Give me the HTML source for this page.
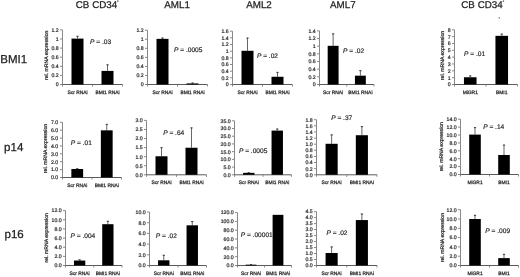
<!DOCTYPE html>
<html><head><meta charset="utf-8"><title>BMI1 p14 p16 expression</title>
<style>
html,body{margin:0;padding:0;background:#fff;}
body{width:520px;height:277px;overflow:hidden;}
svg{display:block;filter:grayscale(1) blur(0.35px);text-rendering:geometricPrecision;font-family:"Liberation Sans",sans-serif;fill:#222;}
text{fill:#222;stroke:#333;stroke-width:0.2px;}
.b{stroke:#222;stroke-width:0.25px;}
.c{stroke-width:0.26px;}
</style></head><body>
<svg width="520" height="277" viewBox="0 0 520 277">
<rect width="520" height="277" fill="#fff"/>
<g><path d="M62.50 29.90V84.50" stroke="#888" stroke-width="1" fill="none"/><path d="M60.00 84.50H62.50" stroke="#888" stroke-width="1"/><text x="58.70" y="86.37" font-size="5.20" text-anchor="end">0</text><path d="M60.00 75.40H62.50" stroke="#888" stroke-width="1"/><text x="58.70" y="77.27" font-size="5.20" text-anchor="end">0.2</text><path d="M60.00 66.30H62.50" stroke="#888" stroke-width="1"/><text x="58.70" y="68.17" font-size="5.20" text-anchor="end">0.4</text><path d="M60.00 57.20H62.50" stroke="#888" stroke-width="1"/><text x="58.70" y="59.07" font-size="5.20" text-anchor="end">0.6</text><path d="M60.00 48.10H62.50" stroke="#888" stroke-width="1"/><text x="58.70" y="49.97" font-size="5.20" text-anchor="end">0.8</text><path d="M60.00 39.00H62.50" stroke="#888" stroke-width="1"/><text x="58.70" y="40.87" font-size="5.20" text-anchor="end">1</text><path d="M60.00 29.90H62.50" stroke="#888" stroke-width="1"/><text x="58.70" y="31.77" font-size="5.20" text-anchor="end">1.2</text><path d="M62.00 84.50H122.50" stroke="#5a5a5a" stroke-width="1" fill="none"/><path d="M62.50 84.50V86.50" stroke="#888" stroke-width="1"/><path d="M92.50 84.50V86.50" stroke="#888" stroke-width="1"/><path d="M122.50 84.50V86.50" stroke="#888" stroke-width="1"/><path d="M77.50 38.60V36.01" stroke="#666" stroke-width="1" fill="none"/><path d="M76.40 36.31H78.60" stroke="#444" stroke-width="1.1" fill="none"/><rect x="71.50" y="38.60" width="12.00" height="45.90" fill="#000"/><text class="c" x="77.50" y="94.00" font-size="4.90" text-anchor="middle">Scr RNAi</text><path d="M107.50 70.91V64.53" stroke="#666" stroke-width="1" fill="none"/><path d="M106.40 64.83H108.60" stroke="#444" stroke-width="1.1" fill="none"/><rect x="101.50" y="70.91" width="12.00" height="13.59" fill="#000"/><text class="c" x="107.50" y="94.00" font-size="4.90" text-anchor="middle">BMI1 RNAi</text><text x="90.10" y="44.10" font-size="6.60"><tspan font-style="italic">P</tspan> = .03</text></g>
<g><path d="M147.50 30.20V84.50" stroke="#888" stroke-width="1" fill="none"/><path d="M145.00 84.50H147.50" stroke="#888" stroke-width="1"/><text x="143.70" y="86.37" font-size="5.20" text-anchor="end">0</text><path d="M145.00 75.45H147.50" stroke="#888" stroke-width="1"/><text x="143.70" y="77.32" font-size="5.20" text-anchor="end">0.2</text><path d="M145.00 66.40H147.50" stroke="#888" stroke-width="1"/><text x="143.70" y="68.27" font-size="5.20" text-anchor="end">0.4</text><path d="M145.00 57.35H147.50" stroke="#888" stroke-width="1"/><text x="143.70" y="59.22" font-size="5.20" text-anchor="end">0.6</text><path d="M145.00 48.30H147.50" stroke="#888" stroke-width="1"/><text x="143.70" y="50.17" font-size="5.20" text-anchor="end">0.8</text><path d="M145.00 39.25H147.50" stroke="#888" stroke-width="1"/><text x="143.70" y="41.12" font-size="5.20" text-anchor="end">1</text><path d="M145.00 30.20H147.50" stroke="#888" stroke-width="1"/><text x="143.70" y="32.07" font-size="5.20" text-anchor="end">1.2</text><path d="M147.00 84.50H207.50" stroke="#5a5a5a" stroke-width="1" fill="none"/><path d="M147.50 84.50V86.50" stroke="#888" stroke-width="1"/><path d="M177.50 84.50V86.50" stroke="#888" stroke-width="1"/><path d="M207.50 84.50V86.50" stroke="#888" stroke-width="1"/><path d="M162.50 38.85V37.72" stroke="#666" stroke-width="1" fill="none"/><path d="M161.40 38.02H163.60" stroke="#444" stroke-width="1.1" fill="none"/><rect x="156.50" y="38.85" width="12.00" height="45.65" fill="#000"/><text class="c" x="162.50" y="94.00" font-size="4.90" text-anchor="middle">Scr RNAi</text><path d="M192.50 83.42V82.74" stroke="#666" stroke-width="1" fill="none"/><path d="M191.40 83.04H193.60" stroke="#444" stroke-width="1.1" fill="none"/><rect x="186.50" y="83.42" width="12.00" height="1.08" fill="#000"/><text class="c" x="192.50" y="94.00" font-size="4.90" text-anchor="middle">BMI1 RNAi</text><text x="174.00" y="51.70" font-size="6.60"><tspan font-style="italic">P</tspan> = .0005</text></g>
<g><path d="M232.50 31.20V84.50" stroke="#888" stroke-width="1" fill="none"/><path d="M230.00 84.50H232.50" stroke="#888" stroke-width="1"/><text x="228.70" y="86.37" font-size="5.20" text-anchor="end">0</text><path d="M230.00 77.84H232.50" stroke="#888" stroke-width="1"/><text x="228.70" y="79.71" font-size="5.20" text-anchor="end">0.2</text><path d="M230.00 71.17H232.50" stroke="#888" stroke-width="1"/><text x="228.70" y="73.05" font-size="5.20" text-anchor="end">0.4</text><path d="M230.00 64.51H232.50" stroke="#888" stroke-width="1"/><text x="228.70" y="66.38" font-size="5.20" text-anchor="end">0.6</text><path d="M230.00 57.85H232.50" stroke="#888" stroke-width="1"/><text x="228.70" y="59.72" font-size="5.20" text-anchor="end">0.8</text><path d="M230.00 51.19H232.50" stroke="#888" stroke-width="1"/><text x="228.70" y="53.06" font-size="5.20" text-anchor="end">1</text><path d="M230.00 44.53H232.50" stroke="#888" stroke-width="1"/><text x="228.70" y="46.40" font-size="5.20" text-anchor="end">1.2</text><path d="M230.00 37.86H232.50" stroke="#888" stroke-width="1"/><text x="228.70" y="39.73" font-size="5.20" text-anchor="end">1.4</text><path d="M230.00 31.20H232.50" stroke="#888" stroke-width="1"/><text x="228.70" y="33.07" font-size="5.20" text-anchor="end">1.6</text><path d="M232.00 84.50H292.50" stroke="#5a5a5a" stroke-width="1" fill="none"/><path d="M232.50 84.50V86.50" stroke="#888" stroke-width="1"/><path d="M262.50 84.50V86.50" stroke="#888" stroke-width="1"/><path d="M292.50 84.50V86.50" stroke="#888" stroke-width="1"/><path d="M247.50 50.79V37.80" stroke="#666" stroke-width="1" fill="none"/><path d="M246.40 38.10H248.60" stroke="#444" stroke-width="1.1" fill="none"/><rect x="241.50" y="50.79" width="12.00" height="33.71" fill="#000"/><text class="c" x="247.50" y="94.00" font-size="4.90" text-anchor="middle">Scr RNAi</text><path d="M277.50 76.77V72.11" stroke="#666" stroke-width="1" fill="none"/><path d="M276.40 72.41H278.60" stroke="#444" stroke-width="1.1" fill="none"/><rect x="271.50" y="76.77" width="12.00" height="7.73" fill="#000"/><text class="c" x="277.50" y="94.00" font-size="4.90" text-anchor="middle">BMI1 RNAi</text><text x="256.90" y="58.20" font-size="6.60"><tspan font-style="italic">P</tspan> = .02</text></g>
<g><path d="M319.50 30.90V84.50" stroke="#888" stroke-width="1" fill="none"/><path d="M317.00 84.50H319.50" stroke="#888" stroke-width="1"/><text x="315.70" y="86.37" font-size="5.20" text-anchor="end">0</text><path d="M317.00 76.84H319.50" stroke="#888" stroke-width="1"/><text x="315.70" y="78.71" font-size="5.20" text-anchor="end">0.2</text><path d="M317.00 69.19H319.50" stroke="#888" stroke-width="1"/><text x="315.70" y="71.06" font-size="5.20" text-anchor="end">0.4</text><path d="M317.00 61.53H319.50" stroke="#888" stroke-width="1"/><text x="315.70" y="63.40" font-size="5.20" text-anchor="end">0.6</text><path d="M317.00 53.87H319.50" stroke="#888" stroke-width="1"/><text x="315.70" y="55.74" font-size="5.20" text-anchor="end">0.8</text><path d="M317.00 46.21H319.50" stroke="#888" stroke-width="1"/><text x="315.70" y="48.09" font-size="5.20" text-anchor="end">1</text><path d="M317.00 38.56H319.50" stroke="#888" stroke-width="1"/><text x="315.70" y="40.43" font-size="5.20" text-anchor="end">1.2</text><path d="M317.00 30.90H319.50" stroke="#888" stroke-width="1"/><text x="315.70" y="32.77" font-size="5.20" text-anchor="end">1.4</text><path d="M319.00 84.50H374.00" stroke="#5a5a5a" stroke-width="1" fill="none"/><path d="M319.50 84.50V86.50" stroke="#888" stroke-width="1"/><path d="M346.75 84.50V86.50" stroke="#888" stroke-width="1"/><path d="M374.00 84.50V86.50" stroke="#888" stroke-width="1"/><path d="M333.12 45.81V33.56" stroke="#666" stroke-width="1" fill="none"/><path d="M332.02 33.86H334.23" stroke="#444" stroke-width="1.1" fill="none"/><rect x="327.68" y="45.81" width="10.90" height="38.69" fill="#000"/><text class="c" x="333.12" y="94.00" font-size="4.90" text-anchor="middle">Scr RNAi</text><path d="M360.38 75.68V70.32" stroke="#666" stroke-width="1" fill="none"/><path d="M359.27 70.62H361.48" stroke="#444" stroke-width="1.1" fill="none"/><rect x="354.93" y="75.68" width="10.90" height="8.82" fill="#000"/><text class="c" x="360.38" y="94.00" font-size="4.90" text-anchor="middle">BMI1 RNAi</text><text x="343.00" y="52.70" font-size="6.60"><tspan font-style="italic">P</tspan> = .02</text></g>
<g><path d="M454.50 29.80V84.50" stroke="#888" stroke-width="1" fill="none"/><path d="M452.00 84.50H454.50" stroke="#888" stroke-width="1"/><text x="450.70" y="86.37" font-size="5.20" text-anchor="end">0</text><path d="M452.00 77.66H454.50" stroke="#888" stroke-width="1"/><text x="450.70" y="79.53" font-size="5.20" text-anchor="end">1</text><path d="M452.00 70.83H454.50" stroke="#888" stroke-width="1"/><text x="450.70" y="72.70" font-size="5.20" text-anchor="end">2</text><path d="M452.00 63.99H454.50" stroke="#888" stroke-width="1"/><text x="450.70" y="65.86" font-size="5.20" text-anchor="end">3</text><path d="M452.00 57.15H454.50" stroke="#888" stroke-width="1"/><text x="450.70" y="59.02" font-size="5.20" text-anchor="end">4</text><path d="M452.00 50.31H454.50" stroke="#888" stroke-width="1"/><text x="450.70" y="52.18" font-size="5.20" text-anchor="end">5</text><path d="M452.00 43.47H454.50" stroke="#888" stroke-width="1"/><text x="450.70" y="45.35" font-size="5.20" text-anchor="end">6</text><path d="M452.00 36.64H454.50" stroke="#888" stroke-width="1"/><text x="450.70" y="38.51" font-size="5.20" text-anchor="end">7</text><path d="M452.00 29.80H454.50" stroke="#888" stroke-width="1"/><text x="450.70" y="31.67" font-size="5.20" text-anchor="end">8</text><path d="M454.00 84.50H517.50" stroke="#5a5a5a" stroke-width="1" fill="none"/><path d="M454.50 84.50V86.50" stroke="#888" stroke-width="1"/><path d="M486.00 84.50V86.50" stroke="#888" stroke-width="1"/><path d="M517.50 84.50V86.50" stroke="#888" stroke-width="1"/><path d="M470.25 77.26V75.62" stroke="#666" stroke-width="1" fill="none"/><path d="M469.15 75.92H471.35" stroke="#444" stroke-width="1.1" fill="none"/><rect x="463.95" y="77.26" width="12.60" height="7.24" fill="#000"/><text class="c" x="470.25" y="94.00" font-size="4.90" text-anchor="middle">MiGR1</text><path d="M501.75 35.83V33.84" stroke="#666" stroke-width="1" fill="none"/><path d="M500.65 34.14H502.85" stroke="#444" stroke-width="1.1" fill="none"/><rect x="495.45" y="35.83" width="12.60" height="48.67" fill="#000"/><text class="c" x="501.75" y="94.00" font-size="4.90" text-anchor="middle">BMI1</text><text x="464.00" y="55.80" font-size="6.60"><tspan font-style="italic">P</tspan> = .01</text></g>
<g><path d="M62.50 122.30V177.50" stroke="#888" stroke-width="1" fill="none"/><path d="M60.00 177.50H62.50" stroke="#888" stroke-width="1"/><text x="58.10" y="179.37" font-size="5.20" text-anchor="end">0.0</text><path d="M60.00 169.61H62.50" stroke="#888" stroke-width="1"/><text x="58.10" y="171.49" font-size="5.20" text-anchor="end">1.0</text><path d="M60.00 161.73H62.50" stroke="#888" stroke-width="1"/><text x="58.10" y="163.60" font-size="5.20" text-anchor="end">2.0</text><path d="M60.00 153.84H62.50" stroke="#888" stroke-width="1"/><text x="58.10" y="155.71" font-size="5.20" text-anchor="end">3.0</text><path d="M60.00 145.96H62.50" stroke="#888" stroke-width="1"/><text x="58.10" y="147.83" font-size="5.20" text-anchor="end">4.0</text><path d="M60.00 138.07H62.50" stroke="#888" stroke-width="1"/><text x="58.10" y="139.94" font-size="5.20" text-anchor="end">5.0</text><path d="M60.00 130.19H62.50" stroke="#888" stroke-width="1"/><text x="58.10" y="132.06" font-size="5.20" text-anchor="end">6.0</text><path d="M60.00 122.30H62.50" stroke="#888" stroke-width="1"/><text x="58.10" y="124.17" font-size="5.20" text-anchor="end">7.0</text><path d="M62.00 177.50H121.50" stroke="#5a5a5a" stroke-width="1" fill="none"/><path d="M62.50 177.50V179.50" stroke="#888" stroke-width="1"/><path d="M92.00 177.50V179.50" stroke="#888" stroke-width="1"/><path d="M121.50 177.50V179.50" stroke="#888" stroke-width="1"/><path d="M77.25 168.98V168.43" stroke="#666" stroke-width="1" fill="none"/><path d="M76.15 168.73H78.35" stroke="#444" stroke-width="1.1" fill="none"/><rect x="71.35" y="168.98" width="11.80" height="8.52" fill="#000"/><text class="c" x="77.25" y="186.50" font-size="4.90" text-anchor="middle">Scr RNAi</text><path d="M106.75 130.34V124.11" stroke="#666" stroke-width="1" fill="none"/><path d="M105.65 124.41H107.85" stroke="#444" stroke-width="1.1" fill="none"/><rect x="100.85" y="130.34" width="11.80" height="47.16" fill="#000"/><text class="c" x="106.75" y="186.50" font-size="4.90" text-anchor="middle">BMI1 RNAi</text><text x="70.80" y="145.00" font-size="6.60"><tspan font-style="italic">P</tspan> = .01</text></g>
<g><path d="M146.50 120.40V174.80" stroke="#888" stroke-width="1" fill="none"/><path d="M144.00 174.80H146.50" stroke="#888" stroke-width="1"/><text x="142.70" y="176.67" font-size="5.20" text-anchor="end">0.0</text><path d="M144.00 165.73H146.50" stroke="#888" stroke-width="1"/><text x="142.70" y="167.61" font-size="5.20" text-anchor="end">0.5</text><path d="M144.00 156.67H146.50" stroke="#888" stroke-width="1"/><text x="142.70" y="158.54" font-size="5.20" text-anchor="end">1.0</text><path d="M144.00 147.60H146.50" stroke="#888" stroke-width="1"/><text x="142.70" y="149.47" font-size="5.20" text-anchor="end">1.5</text><path d="M144.00 138.53H146.50" stroke="#888" stroke-width="1"/><text x="142.70" y="140.41" font-size="5.20" text-anchor="end">2.0</text><path d="M144.00 129.47H146.50" stroke="#888" stroke-width="1"/><text x="142.70" y="131.34" font-size="5.20" text-anchor="end">2.5</text><path d="M144.00 120.40H146.50" stroke="#888" stroke-width="1"/><text x="142.70" y="122.27" font-size="5.20" text-anchor="end">3.0</text><path d="M146.00 174.80H206.50" stroke="#5a5a5a" stroke-width="1" fill="none"/><path d="M146.50 174.80V176.80" stroke="#888" stroke-width="1"/><path d="M176.50 174.80V176.80" stroke="#888" stroke-width="1"/><path d="M206.50 174.80V176.80" stroke="#888" stroke-width="1"/><path d="M161.50 156.27V147.38" stroke="#666" stroke-width="1" fill="none"/><path d="M160.40 147.68H162.60" stroke="#444" stroke-width="1.1" fill="none"/><rect x="155.50" y="156.27" width="12.00" height="18.53" fill="#000"/><text class="c" x="161.50" y="184.00" font-size="4.90" text-anchor="middle">Scr RNAi</text><path d="M191.50 147.74V127.62" stroke="#666" stroke-width="1" fill="none"/><path d="M190.40 127.92H192.60" stroke="#444" stroke-width="1.1" fill="none"/><rect x="185.50" y="147.74" width="12.00" height="27.06" fill="#000"/><text class="c" x="191.50" y="184.00" font-size="4.90" text-anchor="middle">BMI1 RNAi</text><text x="163.20" y="134.80" font-size="6.60"><tspan font-style="italic">P</tspan> = .64</text></g>
<g><path d="M234.50 120.80V174.80" stroke="#888" stroke-width="1" fill="none"/><path d="M232.00 174.80H234.50" stroke="#888" stroke-width="1"/><text x="230.70" y="176.67" font-size="5.20" text-anchor="end">0.0</text><path d="M232.00 167.09H234.50" stroke="#888" stroke-width="1"/><text x="230.70" y="168.96" font-size="5.20" text-anchor="end">5.0</text><path d="M232.00 159.37H234.50" stroke="#888" stroke-width="1"/><text x="230.70" y="161.24" font-size="5.20" text-anchor="end">10.0</text><path d="M232.00 151.66H234.50" stroke="#888" stroke-width="1"/><text x="230.70" y="153.53" font-size="5.20" text-anchor="end">15.0</text><path d="M232.00 143.94H234.50" stroke="#888" stroke-width="1"/><text x="230.70" y="145.81" font-size="5.20" text-anchor="end">20.0</text><path d="M232.00 136.23H234.50" stroke="#888" stroke-width="1"/><text x="230.70" y="138.10" font-size="5.20" text-anchor="end">25.0</text><path d="M232.00 128.51H234.50" stroke="#888" stroke-width="1"/><text x="230.70" y="130.39" font-size="5.20" text-anchor="end">30.0</text><path d="M232.00 120.80H234.50" stroke="#888" stroke-width="1"/><text x="230.70" y="122.67" font-size="5.20" text-anchor="end">35.0</text><path d="M234.00 174.80H291.50" stroke="#5a5a5a" stroke-width="1" fill="none"/><path d="M234.50 174.80V176.80" stroke="#888" stroke-width="1"/><path d="M263.00 174.80V176.80" stroke="#888" stroke-width="1"/><path d="M291.50 174.80V176.80" stroke="#888" stroke-width="1"/><path d="M248.75 172.86V172.39" stroke="#666" stroke-width="1" fill="none"/><path d="M247.65 172.69H249.85" stroke="#444" stroke-width="1.1" fill="none"/><rect x="243.05" y="172.86" width="11.40" height="1.94" fill="#000"/><text class="c" x="248.75" y="184.00" font-size="4.90" text-anchor="middle">Scr RNAi</text><path d="M277.25 130.58V128.73" stroke="#666" stroke-width="1" fill="none"/><path d="M276.15 129.03H278.35" stroke="#444" stroke-width="1.1" fill="none"/><rect x="271.55" y="130.58" width="11.40" height="44.22" fill="#000"/><text class="c" x="277.25" y="184.00" font-size="4.90" text-anchor="middle">BMI1 RNAi</text><text x="238.90" y="152.50" font-size="6.60"><tspan font-style="italic">P</tspan> = .0005</text></g>
<g><path d="M316.50 119.70V174.80" stroke="#888" stroke-width="1" fill="none"/><path d="M314.00 174.80H316.50" stroke="#888" stroke-width="1"/><text x="312.70" y="176.67" font-size="5.20" text-anchor="end">0.0</text><path d="M314.00 168.68H316.50" stroke="#888" stroke-width="1"/><text x="312.70" y="170.55" font-size="5.20" text-anchor="end">0.2</text><path d="M314.00 162.56H316.50" stroke="#888" stroke-width="1"/><text x="312.70" y="164.43" font-size="5.20" text-anchor="end">0.4</text><path d="M314.00 156.43H316.50" stroke="#888" stroke-width="1"/><text x="312.70" y="158.31" font-size="5.20" text-anchor="end">0.6</text><path d="M314.00 150.31H316.50" stroke="#888" stroke-width="1"/><text x="312.70" y="152.18" font-size="5.20" text-anchor="end">0.8</text><path d="M314.00 144.19H316.50" stroke="#888" stroke-width="1"/><text x="312.70" y="146.06" font-size="5.20" text-anchor="end">1.0</text><path d="M314.00 138.07H316.50" stroke="#888" stroke-width="1"/><text x="312.70" y="139.94" font-size="5.20" text-anchor="end">1.2</text><path d="M314.00 131.94H316.50" stroke="#888" stroke-width="1"/><text x="312.70" y="133.82" font-size="5.20" text-anchor="end">1.4</text><path d="M314.00 125.82H316.50" stroke="#888" stroke-width="1"/><text x="312.70" y="127.69" font-size="5.20" text-anchor="end">1.6</text><path d="M314.00 119.70H316.50" stroke="#888" stroke-width="1"/><text x="312.70" y="121.57" font-size="5.20" text-anchor="end">1.8</text><path d="M316.00 174.80H377.00" stroke="#5a5a5a" stroke-width="1" fill="none"/><path d="M316.50 174.80V176.80" stroke="#888" stroke-width="1"/><path d="M346.75 174.80V176.80" stroke="#888" stroke-width="1"/><path d="M377.00 174.80V176.80" stroke="#888" stroke-width="1"/><path d="M331.62 143.79V134.61" stroke="#666" stroke-width="1" fill="none"/><path d="M330.52 134.91H332.73" stroke="#444" stroke-width="1.1" fill="none"/><rect x="325.57" y="143.79" width="12.10" height="31.01" fill="#000"/><text class="c" x="331.62" y="184.00" font-size="4.90" text-anchor="middle">Scr RNAi</text><path d="M361.88 135.22V126.34" stroke="#666" stroke-width="1" fill="none"/><path d="M360.77 126.64H362.98" stroke="#444" stroke-width="1.1" fill="none"/><rect x="355.82" y="135.22" width="12.10" height="39.58" fill="#000"/><text class="c" x="361.88" y="184.00" font-size="4.90" text-anchor="middle">BMI1 RNAi</text><text x="331.20" y="119.50" font-size="6.60"><tspan font-style="italic">P</tspan> = .37</text></g>
<g><path d="M460.50 119.20V174.50" stroke="#888" stroke-width="1" fill="none"/><path d="M458.00 174.50H460.50" stroke="#888" stroke-width="1"/><text x="456.70" y="176.37" font-size="5.20" text-anchor="end">0.0</text><path d="M458.00 166.60H460.50" stroke="#888" stroke-width="1"/><text x="456.70" y="168.47" font-size="5.20" text-anchor="end">2.0</text><path d="M458.00 158.70H460.50" stroke="#888" stroke-width="1"/><text x="456.70" y="160.57" font-size="5.20" text-anchor="end">4.0</text><path d="M458.00 150.80H460.50" stroke="#888" stroke-width="1"/><text x="456.70" y="152.67" font-size="5.20" text-anchor="end">6.0</text><path d="M458.00 142.90H460.50" stroke="#888" stroke-width="1"/><text x="456.70" y="144.77" font-size="5.20" text-anchor="end">8.0</text><path d="M458.00 135.00H460.50" stroke="#888" stroke-width="1"/><text x="456.70" y="136.87" font-size="5.20" text-anchor="end">10.0</text><path d="M458.00 127.10H460.50" stroke="#888" stroke-width="1"/><text x="456.70" y="128.97" font-size="5.20" text-anchor="end">12.0</text><path d="M458.00 119.20H460.50" stroke="#888" stroke-width="1"/><text x="456.70" y="121.07" font-size="5.20" text-anchor="end">14.0</text><path d="M460.00 174.50H518.50" stroke="#5a5a5a" stroke-width="1" fill="none"/><path d="M460.50 174.50V176.50" stroke="#888" stroke-width="1"/><path d="M489.50 174.50V176.50" stroke="#888" stroke-width="1"/><path d="M518.50 174.50V176.50" stroke="#888" stroke-width="1"/><path d="M475.00 134.60V127.29" stroke="#666" stroke-width="1" fill="none"/><path d="M473.90 127.59H476.10" stroke="#444" stroke-width="1.1" fill="none"/><rect x="469.20" y="134.60" width="11.60" height="39.90" fill="#000"/><text class="c" x="475.00" y="184.00" font-size="4.90" text-anchor="middle">MiGR1</text><path d="M504.00 154.98V144.79" stroke="#666" stroke-width="1" fill="none"/><path d="M502.90 145.09H505.10" stroke="#444" stroke-width="1.1" fill="none"/><rect x="498.20" y="154.98" width="11.60" height="19.52" fill="#000"/><text class="c" x="504.00" y="184.00" font-size="4.90" text-anchor="middle">BMI1</text><text x="483.20" y="129.00" font-size="6.60"><tspan font-style="italic">P</tspan> = .14</text></g>
<g><path d="M65.50 210.60V265.50" stroke="#888" stroke-width="1" fill="none"/><path d="M63.00 265.50H65.50" stroke="#888" stroke-width="1"/><text x="61.70" y="267.37" font-size="5.20" text-anchor="end">0.0</text><path d="M63.00 256.35H65.50" stroke="#888" stroke-width="1"/><text x="61.70" y="258.22" font-size="5.20" text-anchor="end">2.0</text><path d="M63.00 247.20H65.50" stroke="#888" stroke-width="1"/><text x="61.70" y="249.07" font-size="5.20" text-anchor="end">4.0</text><path d="M63.00 238.05H65.50" stroke="#888" stroke-width="1"/><text x="61.70" y="239.92" font-size="5.20" text-anchor="end">6.0</text><path d="M63.00 228.90H65.50" stroke="#888" stroke-width="1"/><text x="61.70" y="230.77" font-size="5.20" text-anchor="end">8.0</text><path d="M63.00 219.75H65.50" stroke="#888" stroke-width="1"/><text x="61.70" y="221.62" font-size="5.20" text-anchor="end">10.0</text><path d="M63.00 210.60H65.50" stroke="#888" stroke-width="1"/><text x="61.70" y="212.47" font-size="5.20" text-anchor="end">12.0</text><path d="M65.00 265.50H122.00" stroke="#5a5a5a" stroke-width="1" fill="none"/><path d="M65.50 265.50V267.50" stroke="#888" stroke-width="1"/><path d="M93.75 265.50V267.50" stroke="#888" stroke-width="1"/><path d="M122.00 265.50V267.50" stroke="#888" stroke-width="1"/><path d="M79.62 260.53V259.52" stroke="#666" stroke-width="1" fill="none"/><path d="M78.53 259.82H80.72" stroke="#444" stroke-width="1.1" fill="none"/><rect x="73.97" y="260.53" width="11.30" height="4.97" fill="#000"/><text class="c" x="79.62" y="274.50" font-size="4.90" text-anchor="middle">Scr RNAi</text><path d="M107.88 224.20V221.00" stroke="#666" stroke-width="1" fill="none"/><path d="M106.78 221.30H108.97" stroke="#444" stroke-width="1.1" fill="none"/><rect x="102.22" y="224.20" width="11.30" height="41.30" fill="#000"/><text class="c" x="107.88" y="274.50" font-size="4.90" text-anchor="middle">BMI1 RNAi</text><text x="70.50" y="237.90" font-size="6.60"><tspan font-style="italic">P</tspan> = .004</text></g>
<g><path d="M149.50 212.00V265.50" stroke="#888" stroke-width="1" fill="none"/><path d="M147.00 265.50H149.50" stroke="#888" stroke-width="1"/><text x="145.70" y="267.37" font-size="5.20" text-anchor="end">0.0</text><path d="M147.00 254.80H149.50" stroke="#888" stroke-width="1"/><text x="145.70" y="256.67" font-size="5.20" text-anchor="end">2.0</text><path d="M147.00 244.10H149.50" stroke="#888" stroke-width="1"/><text x="145.70" y="245.97" font-size="5.20" text-anchor="end">4.0</text><path d="M147.00 233.40H149.50" stroke="#888" stroke-width="1"/><text x="145.70" y="235.27" font-size="5.20" text-anchor="end">6.0</text><path d="M147.00 222.70H149.50" stroke="#888" stroke-width="1"/><text x="145.70" y="224.57" font-size="5.20" text-anchor="end">8.0</text><path d="M147.00 212.00H149.50" stroke="#888" stroke-width="1"/><text x="145.70" y="213.87" font-size="5.20" text-anchor="end">10.0</text><path d="M149.00 265.50H206.50" stroke="#5a5a5a" stroke-width="1" fill="none"/><path d="M149.50 265.50V267.50" stroke="#888" stroke-width="1"/><path d="M178.00 265.50V267.50" stroke="#888" stroke-width="1"/><path d="M206.50 265.50V267.50" stroke="#888" stroke-width="1"/><path d="M163.75 260.29V254.99" stroke="#666" stroke-width="1" fill="none"/><path d="M162.65 255.29H164.85" stroke="#444" stroke-width="1.1" fill="none"/><rect x="158.05" y="260.29" width="11.40" height="5.21" fill="#000"/><text class="c" x="163.75" y="274.50" font-size="4.90" text-anchor="middle">Scr RNAi</text><path d="M192.25 225.30V221.28" stroke="#666" stroke-width="1" fill="none"/><path d="M191.15 221.58H193.35" stroke="#444" stroke-width="1.1" fill="none"/><rect x="186.55" y="225.30" width="11.40" height="40.20" fill="#000"/><text class="c" x="192.25" y="274.50" font-size="4.90" text-anchor="middle">BMI1 RNAi</text><text x="155.80" y="237.60" font-size="6.60"><tspan font-style="italic">P</tspan> = .02</text></g>
<g><path d="M237.50 212.60V265.50" stroke="#888" stroke-width="1" fill="none"/><path d="M235.00 265.50H237.50" stroke="#888" stroke-width="1"/><text x="233.70" y="267.37" font-size="5.20" text-anchor="end">0.0</text><path d="M235.00 256.68H237.50" stroke="#888" stroke-width="1"/><text x="233.70" y="258.56" font-size="5.20" text-anchor="end">20.0</text><path d="M235.00 247.87H237.50" stroke="#888" stroke-width="1"/><text x="233.70" y="249.74" font-size="5.20" text-anchor="end">40.0</text><path d="M235.00 239.05H237.50" stroke="#888" stroke-width="1"/><text x="233.70" y="240.92" font-size="5.20" text-anchor="end">60.0</text><path d="M235.00 230.23H237.50" stroke="#888" stroke-width="1"/><text x="233.70" y="232.11" font-size="5.20" text-anchor="end">80.0</text><path d="M235.00 221.42H237.50" stroke="#888" stroke-width="1"/><text x="233.70" y="223.29" font-size="5.20" text-anchor="end">100.0</text><path d="M235.00 212.60H237.50" stroke="#888" stroke-width="1"/><text x="233.70" y="214.47" font-size="5.20" text-anchor="end">120.0</text><path d="M237.00 265.50H291.50" stroke="#5a5a5a" stroke-width="1" fill="none"/><path d="M237.50 265.50V267.50" stroke="#888" stroke-width="1"/><path d="M264.50 265.50V267.50" stroke="#888" stroke-width="1"/><path d="M291.50 265.50V267.50" stroke="#888" stroke-width="1"/><path d="M251.00 264.66V264.44" stroke="#666" stroke-width="1" fill="none"/><path d="M249.90 264.74H252.10" stroke="#444" stroke-width="1.1" fill="none"/><rect x="245.60" y="264.66" width="10.80" height="0.84" fill="#000"/><text class="c" x="251.00" y="274.50" font-size="4.90" text-anchor="middle">Scr RNAi</text><rect x="272.60" y="214.84" width="10.80" height="50.66" fill="#000"/><text class="c" x="278.00" y="274.50" font-size="4.90" text-anchor="middle">BMI1 RNAi</text><text x="240.70" y="237.20" font-size="6.60"><tspan font-style="italic">P</tspan> = .00001</text></g>
<g><path d="M316.50 211.60V265.50" stroke="#888" stroke-width="1" fill="none"/><path d="M314.00 265.50H316.50" stroke="#888" stroke-width="1"/><text x="312.70" y="267.37" font-size="5.20" text-anchor="end">0.0</text><path d="M314.00 259.51H316.50" stroke="#888" stroke-width="1"/><text x="312.70" y="261.38" font-size="5.20" text-anchor="end">0.5</text><path d="M314.00 253.52H316.50" stroke="#888" stroke-width="1"/><text x="312.70" y="255.39" font-size="5.20" text-anchor="end">1.0</text><path d="M314.00 247.53H316.50" stroke="#888" stroke-width="1"/><text x="312.70" y="249.41" font-size="5.20" text-anchor="end">1.5</text><path d="M314.00 241.54H316.50" stroke="#888" stroke-width="1"/><text x="312.70" y="243.42" font-size="5.20" text-anchor="end">2.0</text><path d="M314.00 235.56H316.50" stroke="#888" stroke-width="1"/><text x="312.70" y="237.43" font-size="5.20" text-anchor="end">2.5</text><path d="M314.00 229.57H316.50" stroke="#888" stroke-width="1"/><text x="312.70" y="231.44" font-size="5.20" text-anchor="end">3.0</text><path d="M314.00 223.58H316.50" stroke="#888" stroke-width="1"/><text x="312.70" y="225.45" font-size="5.20" text-anchor="end">3.5</text><path d="M314.00 217.59H316.50" stroke="#888" stroke-width="1"/><text x="312.70" y="219.46" font-size="5.20" text-anchor="end">4.0</text><path d="M314.00 211.60H316.50" stroke="#888" stroke-width="1"/><text x="312.70" y="213.47" font-size="5.20" text-anchor="end">4.5</text><path d="M316.00 265.50H377.00" stroke="#5a5a5a" stroke-width="1" fill="none"/><path d="M316.50 265.50V267.50" stroke="#888" stroke-width="1"/><path d="M346.75 265.50V267.50" stroke="#888" stroke-width="1"/><path d="M377.00 265.50V267.50" stroke="#888" stroke-width="1"/><path d="M331.62 253.00V246.65" stroke="#666" stroke-width="1" fill="none"/><path d="M330.52 246.95H332.73" stroke="#444" stroke-width="1.1" fill="none"/><rect x="325.57" y="253.00" width="12.10" height="12.50" fill="#000"/><text class="c" x="331.62" y="274.50" font-size="4.90" text-anchor="middle">Scr RNAi</text><path d="M361.88 220.06V213.72" stroke="#666" stroke-width="1" fill="none"/><path d="M360.77 214.02H362.98" stroke="#444" stroke-width="1.1" fill="none"/><rect x="355.82" y="220.06" width="12.10" height="45.44" fill="#000"/><text class="c" x="361.88" y="274.50" font-size="4.90" text-anchor="middle">BMI1 RNAi</text><text x="326.40" y="234.90" font-size="6.60"><tspan font-style="italic">P</tspan> = .02</text></g>
<g><path d="M460.50 209.70V265.50" stroke="#888" stroke-width="1" fill="none"/><path d="M458.00 265.50H460.50" stroke="#888" stroke-width="1"/><text x="456.70" y="267.37" font-size="5.20" text-anchor="end">0.0</text><path d="M458.00 256.20H460.50" stroke="#888" stroke-width="1"/><text x="456.70" y="258.07" font-size="5.20" text-anchor="end">2.0</text><path d="M458.00 246.90H460.50" stroke="#888" stroke-width="1"/><text x="456.70" y="248.77" font-size="5.20" text-anchor="end">4.0</text><path d="M458.00 237.60H460.50" stroke="#888" stroke-width="1"/><text x="456.70" y="239.47" font-size="5.20" text-anchor="end">6.0</text><path d="M458.00 228.30H460.50" stroke="#888" stroke-width="1"/><text x="456.70" y="230.17" font-size="5.20" text-anchor="end">8.0</text><path d="M458.00 219.00H460.50" stroke="#888" stroke-width="1"/><text x="456.70" y="220.87" font-size="5.20" text-anchor="end">10.0</text><path d="M458.00 209.70H460.50" stroke="#888" stroke-width="1"/><text x="456.70" y="211.57" font-size="5.20" text-anchor="end">12.0</text><path d="M460.00 265.50H518.50" stroke="#5a5a5a" stroke-width="1" fill="none"/><path d="M460.50 265.50V267.50" stroke="#888" stroke-width="1"/><path d="M489.50 265.50V267.50" stroke="#888" stroke-width="1"/><path d="M518.50 265.50V267.50" stroke="#888" stroke-width="1"/><path d="M475.00 219.02V215.02" stroke="#666" stroke-width="1" fill="none"/><path d="M473.90 215.32H476.10" stroke="#444" stroke-width="1.1" fill="none"/><rect x="469.20" y="219.02" width="11.60" height="46.48" fill="#000"/><text class="c" x="475.00" y="274.50" font-size="4.90" text-anchor="middle">MiGR1</text><path d="M504.00 258.12V253.99" stroke="#666" stroke-width="1" fill="none"/><path d="M502.90 254.29H505.10" stroke="#444" stroke-width="1.1" fill="none"/><rect x="498.20" y="258.12" width="11.60" height="7.38" fill="#000"/><text class="c" x="504.00" y="274.50" font-size="4.90" text-anchor="middle">BMI1</text><text x="485.30" y="232.50" font-size="6.60"><tspan font-style="italic">P</tspan> = .009</text></g>
<text class="c" transform="translate(46.50 55.30) rotate(-90)" x="0" y="1.78" font-size="5.10" text-anchor="middle">rel. mRNA expression</text>
<text class="c" transform="translate(442.30 55.50) rotate(-90)" x="0" y="1.78" font-size="5.10" text-anchor="middle">rel. mRNA expression</text>
<text class="c" transform="translate(45.40 148.50) rotate(-90)" x="0" y="1.78" font-size="5.10" text-anchor="middle">rel. mRNA expression</text>
<text class="c" transform="translate(441.60 146.70) rotate(-90)" x="0" y="1.78" font-size="5.10" text-anchor="middle">rel. mRNA expression</text>
<text class="c" transform="translate(45.80 237.80) rotate(-90)" x="0" y="1.78" font-size="5.10" text-anchor="middle">rel. mRNA expression</text>
<text class="c" transform="translate(442.00 237.60) rotate(-90)" x="0" y="1.78" font-size="5.10" text-anchor="middle">rel. mRNA expression</text>
<text class="b" x="75.80" y="7.80" font-size="9.80">CB CD34<tspan font-size="2.94" dy="-5.6" dx="-0.3" style="stroke-width:0.1px">+</tspan></text>
<text class="b" x="164.30" y="7.80" font-size="9.80">AML1</text>
<text class="b" x="246.20" y="7.80" font-size="9.80">AML2</text>
<text class="b" x="330.00" y="7.80" font-size="9.80">AML7</text>
<text class="b" x="461.30" y="7.80" font-size="9.80">CB CD34<tspan font-size="2.94" dy="-5.6" dx="-0.3" style="stroke-width:0.1px">+</tspan></text>
<text class="b" x="0.30" y="63.00" font-size="11.50">BMI1</text>
<text class="b" x="4.10" y="150.80" font-size="11.50">p14</text>
<text class="b" x="4.50" y="237.80" font-size="11.50">p16</text>
<circle cx="499.3" cy="17.9" r="0.8" fill="#888"/>
</svg>
</body></html>
